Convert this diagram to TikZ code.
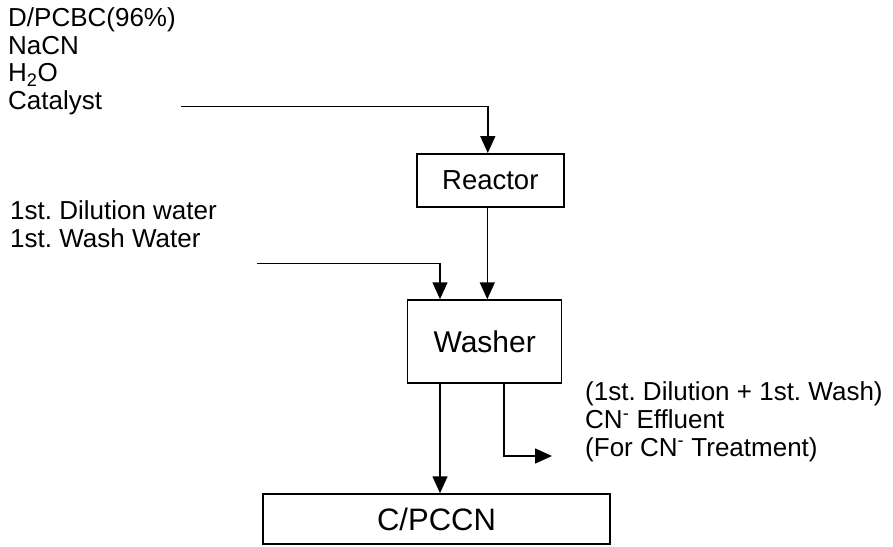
\documentclass[tikz,border=0pt]{standalone}
\usepackage{fontspec}
\setmainfont{Liberation Sans}
\frenchspacing
\usepackage{tikz}
\usetikzlibrary{arrows.meta,calc}

\begin{document}
\begin{tikzpicture}[
  x=1pt, y=-1pt,
  every node/.style={font=\fontsize{26}{27.6}\selectfont},
  unit/.style={
    draw, line width=1.5pt, inner sep=0pt, align=center
  },
  stream/.style={
    anchor=base west, align=left, inner sep=0pt
  },
  arr/.style={-{Triangle[length=17pt,width=15pt]}, line width=1.5pt}
]
\useasboundingbox (0,0) rectangle (893,546);

%% Unit operations
\node[unit, minimum width=147pt, minimum height=53pt, font=\fontsize{27.5}{30}\selectfont]
  (REAC) at (490.3,180.3) {Reactor};
\node[unit, minimum width=154pt, minimum height=83pt, font=\fontsize{30}{33}\selectfont]
  (WASH) at (484.7,341.5) {Washer};
\node[unit, minimum width=347pt, minimum height=50pt, font=\fontsize{31}{34}\selectfont]
  (PROD) at (436.5,519) {C/PCCN};

%% Stream labels (anchored on the baseline of their last line)
\node[stream] (FEEDTXT) at (8,109.5) {D/PCBC(96\%)\\NaCN\\H\textsubscript{2}O\\Catalyst};
\node[stream] (DILTXT)  at (10,247.5) {1st. Dilution water\\1st. Wash Water};
\node[stream] (EFFTXT)  at (585,456)
  {(1st. Dilution + 1st. Wash)\\CN\textsuperscript{-} Effluent\\(For CN\textsuperscript{-} Treatment)};

%% Free ends of the feed lines
\coordinate (FEED) at (181,106.7);
\coordinate (DIL)  at (257,263.3);
\coordinate (EFF)  at (552,456);

%% Feed into reactor, reactor into washer
\draw[arr] (FEED) -| ([xshift=-2.5pt]REAC.north);
\draw[arr] ([xshift=-3pt]REAC.south) -- ([xshift=-3pt]REAC.south |- WASH.north);

%% Dilution / wash water into washer
\draw[arr] (DIL) -| ([xshift=-44.7pt]WASH.north);

%% Washer out: product and effluent
\draw[arr] ([xshift=-44.7pt]WASH.south) -- ([xshift=-44.7pt]WASH.south |- PROD.north);
\draw[arr] ([xshift=19.3pt]WASH.south) |- (EFF);

\end{tikzpicture}
\end{document}
